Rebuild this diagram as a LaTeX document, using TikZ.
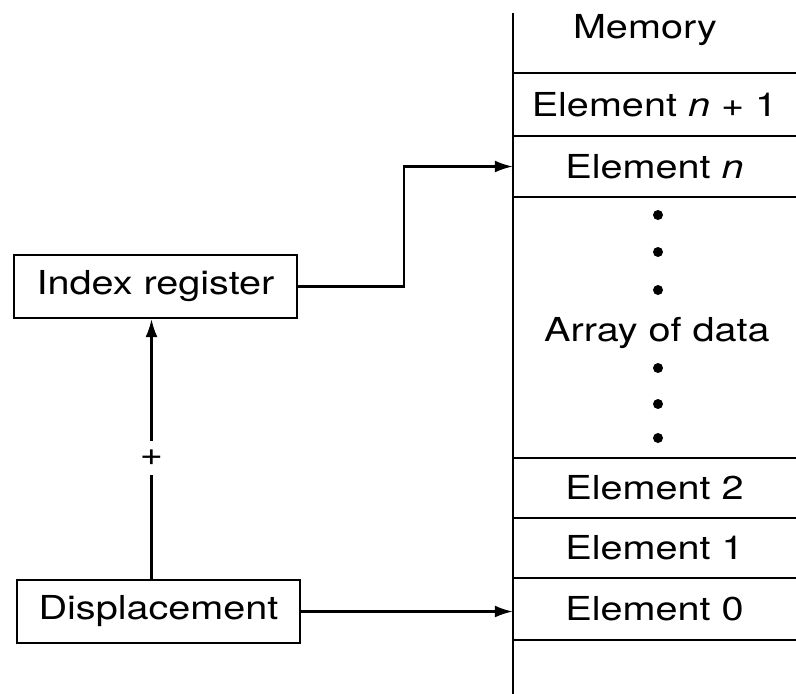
\documentclass[tikz,border=0pt]{standalone}
\usepackage{fontspec}
\setmainfont{TeX Gyre Heros}[FakeStretch=1.2]
\usetikzlibrary{arrows.meta}

\begin{document}
\begin{tikzpicture}[x=1pt,y=1pt,yscale=-1,
  every node/.append style={font=\fontsize{33}{38}\selectfont},
  regbox/.style={draw,line width=2.2pt,minimum width=283pt,minimum height=63pt,inner sep=0pt},
  cell/.style={minimum width=283pt,inner sep=0pt},
  memline/.style={line width=2.2pt},
  link/.style={line width=2.2pt,-{Latex[length=18pt,width=12pt]}},
  dot/.style={fill=black}]
\useasboundingbox (0,0) rectangle (796,694);

%Memory column
\draw[memline] (513,13) -- (513,694);
\foreach \y in {73,136,197,458,518,578,640}
  \draw[memline] (513,\y) -- (796,\y);

% Text Node
\node[inner sep=0pt] (memtitle) at (645,30) {Memory};
\node[cell,minimum height=63pt] (elemnp) at (654.5,104.5) {Element \textit{n} + 1};
\node[cell,minimum height=61pt] (elemn) at (654.5,166.5) {Element \textit{n}};
\node[inner sep=0pt] (arr) at (657,333) {Array of data};
\node[cell,minimum height=60pt] (elemtwo) at (654.5,488) {Element 2};
\node[cell,minimum height=60pt] (elemone) at (654.5,548) {Element 1};
\node[cell,minimum height=62pt] (elemzero) at (654.5,609) {Element 0};

%dots
\foreach \y in {215,252,290,368,404,438}
  \fill[dot] (658,\y) circle (5);

%Registers
\node[regbox] (idx) at (155.5,286.5) {Index register};
\node[regbox] (disp) at (158.5,611.5) {Displacement};

%Straight Lines
\draw[link] (idx.east) -- ++(106,0) |- (elemn.west);
\draw[link] (disp.east) -- (disp.east -| elemzero.west);
\draw[link] ([xshift=-7pt]disp.north) -- node[pos=0.466,fill=white,inner xsep=3pt,inner ysep=9pt] {+} ([xshift=-7pt]disp.north |- idx.south);

\end{tikzpicture}
\end{document}
